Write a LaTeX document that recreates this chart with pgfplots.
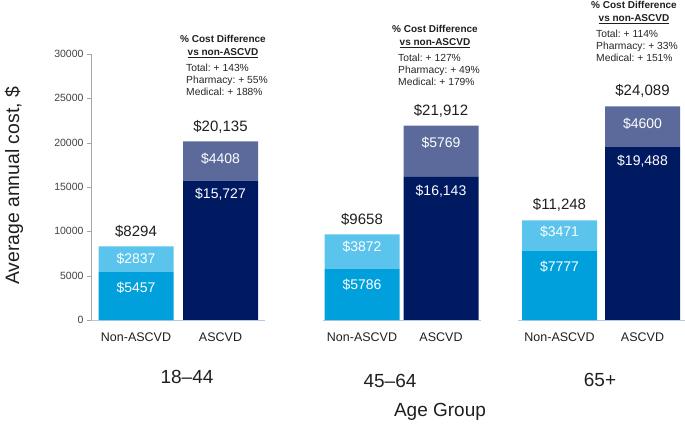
\documentclass[border=0pt]{standalone}
\usepackage{pgfplots}
\usepackage{pgfplotstable}
\pgfplotsset{compat=1.18}
\usepackage{fontspec}
\setmainfont{Liberation Sans}

\definecolor{nonbot}{HTML}{00A0DC}
\definecolor{nontop}{HTML}{5BC4EC}
\definecolor{ascbot}{HTML}{001A62}
\definecolor{asctop}{HTML}{5B6A9B}
\definecolor{baseln}{HTML}{B4C7E7}
\definecolor{txt}{HTML}{1F1F1F}

% x = bar centre (pixels), med/pha = medical and pharmacy cost, tot = total
\pgfplotstableread[col sep=semicolon]{
x;med;pha;tot;lmed;lpha;ltot
136;5457;2837;8294;5457;2837;8294
362;5786;3872;9658;5786;3872;9658
559.5;7777;3471;11248;7777;3471;11,248
}\nonascvd
\pgfplotstableread[col sep=semicolon]{
x;med;pha;tot;lmed;lpha;ltot
220.5;15727;4408;20135;15,727;4408;20,135
441;16143;5769;21912;16,143;5769;21,912
642.5;19488;4600;24089;19,488;4600;24,089
}\ascvd

\newcommand\fs[1]{\fontsize{#1bp}{#1bp}\selectfont}
% one block of "% Cost Difference" text; positions in pixels from the top left
\newcommand\costdiff[6]{%
  \node[anchor=mid, font=\fs{10}\bfseries, text=txt, inner sep=0pt] at (#1bp,{(429-#2)*1bp}) {\% Cost Difference};
  \node[anchor=mid, font=\fs{10}\bfseries, text=txt, inner sep=0pt] at (#1bp,{(429-#2-13)*1bp}) {\underline{vs non-ASCVD}};
  \node[anchor=mid west, font=\fs{10.3}, text=black!85, inner sep=0pt] at (#3bp,{(429-#2-29)*1bp}) {Total:\ + #4\%};
  \node[anchor=mid west, font=\fs{10.3}, text=black!85, inner sep=0pt] at (#3bp,{(429-#2-41)*1bp}) {Pharmacy:\ + #5\%};
  \node[anchor=mid west, font=\fs{10.3}, text=black!85, inner sep=0pt] at (#3bp,{(429-#2-53)*1bp}) {Medical:\ + #6\%};
}

\pgfplotsset{
  frame/.style={
    at={(91bp,109bp)}, anchor=south west,
    scale only axis, width=594bp, height=266bp,
    xmin=91, xmax=685, ymin=0, ymax=30000,
    bar width=75, clip=false,
  },
  % a value label #1 px above the point (negative: below), size #2, colour #3
  lab/.style n args={3}{
    draw=none, mark=none,
    point meta=explicit symbolic,
    nodes near coords={\$\pgfplotspointmeta},
    every node near coord/.append style={anchor=center, yshift=#1bp,
      font=\fs{#2}, text=#3},
  },
}

\begin{document}
\begin{tikzpicture}
\useasboundingbox (0,0) rectangle (685bp,429bp);
\begin{axis}[
    frame,
    ybar stacked,
    axis y line=left, axis x line=bottom,
    axis line style={-},
    y axis line style={draw=gray!70},
    x axis line style={draw=none},
    ytick={0,5000,...,30000},
    scaled y ticks=false,
    tick align=outside, major tick length=4bp,
    ytick style={draw=gray!70},
    xtick style={draw=none},
    xtick={136,220.5,362,441,559.5,642.5},
    xticklabels={Non-ASCVD,ASCVD,Non-ASCVD,ASCVD,Non-ASCVD,ASCVD},
    /pgf/number format/assume math mode=true,
    y tick label style={font=\fs{10.5}, text=black!75, /pgf/number format/1000 sep={}},
    x tick label style={font=\fs{12.5}, text=txt, yshift=-5bp},
    ylabel={Average annual cost, \$},
    ylabel style={font=\fs{19.4}, text=txt, at={(axis description cs:-0.1296,0.504)}, anchor=center},
    xlabel={Age Group},
    xlabel style={font=\fs{19}, text=txt, at={(axis description cs:0.5875,-0.346)}, anchor=center},
]
\addplot[fill=nonbot, draw=none] table[x=x, y=med] {\nonascvd};
\addplot[fill=nontop, draw=none] table[x=x, y=pha] {\nonascvd};

\draw[baseln, line width=0.8pt] (axis cs:91,0) -- (axis cs:265,0);
\draw[baseln, line width=0.8pt] (axis cs:323,0) -- (axis cs:481,0);
\draw[baseln, line width=0.8pt] (axis cs:518,0) -- (axis cs:685,0);
\end{axis}

% ASCVD stacks on an overlaid axis of the same frame
\begin{axis}[frame, hide axis, ybar stacked]
\addplot[fill=ascbot, draw=none] table[x=x, y=med] {\ascvd};
\addplot[fill=asctop, draw=none] table[x=x, y=pha] {\ascvd};
\end{axis}

% value labels: each segment's label sits just below its top, totals above
\begin{axis}[frame, hide axis]
\addplot[lab={-16}{14}{white}] table[x=x, y=med, meta=lmed] {\nonascvd};
\addplot[lab={-12}{14}{white}] table[x=x, y=tot, meta=lpha] {\nonascvd};
\addplot[lab={-14}{14}{white}] table[x=x, y=med, meta=lmed] {\ascvd};
\addplot[lab={-17}{14}{white}] table[x=x, y=tot, meta=lpha] {\ascvd};
\addplot[lab={15}{15}{txt}] table[x=x, y=tot, meta=ltot] {\nonascvd};
\addplot[lab={15}{15}{txt}] table[x=x, y=tot, meta=ltot] {\ascvd};
\end{axis}

\node[font=\fs{19}, text=txt] at (187bp,{(429-377)*1bp}) {18--44};
\node[font=\fs{19}, text=txt] at (390bp,{(429-381)*1bp}) {45--64};
\node[font=\fs{19}, text=txt] at (600bp,{(429-380)*1bp}) {65+};

\costdiff{223}{40}{186}{143}{55}{188}
\costdiff{435}{30}{398}{127}{49}{179}
\costdiff{634}{6}{596}{114}{33}{151}
\end{tikzpicture}
\end{document}
